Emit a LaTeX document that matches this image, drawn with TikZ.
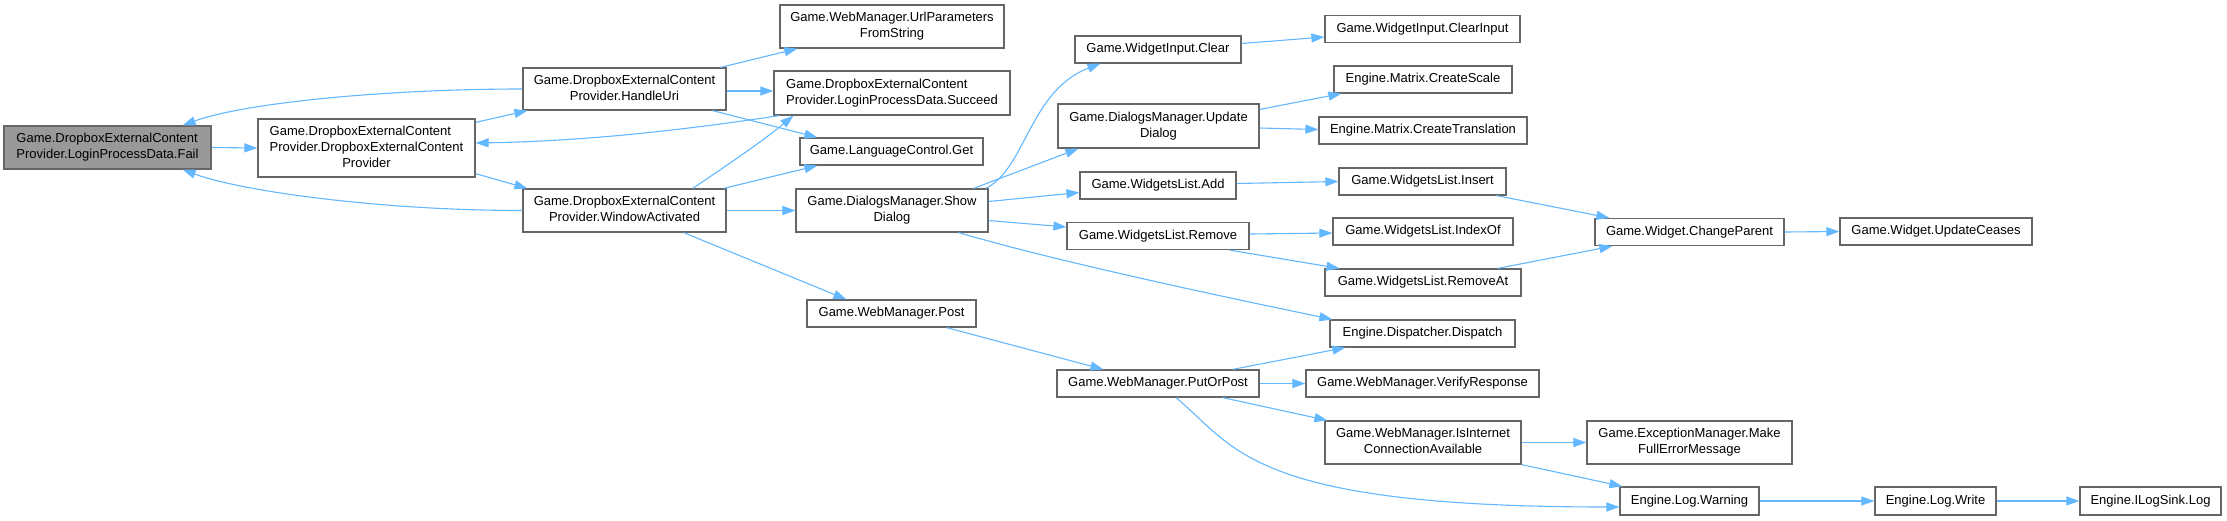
\documentclass[tikz,border=0pt]{standalone}
\usepackage{fontspec}
\setmainfont{Liberation Sans}
\usetikzlibrary{arrows.meta,calc}
\definecolor{edgec}{HTML}{63B8FF}
\definecolor{bordc}{HTML}{666666}
\definecolor{failc}{HTML}{999999}
\newcommand{\twoln}[2]{\begin{tabular}{@{}l@{}}#1\\\multicolumn{1}{@{}c@{}}{#2}\end{tabular}}
\newcommand{\threeln}[3]{\begin{tabular}{@{}l@{}}#1\\#2\\\multicolumn{1}{@{}c@{}}{#3}\end{tabular}}
\begin{document}
\begin{tikzpicture}[x=1pt,y=-1pt,
  nd/.style={draw=bordc, line width=1.2pt, fill=white, inner sep=0pt, font=\fontsize{13}{16}\selectfont, text=black},
  ed/.style={draw=edgec, line width=1.1pt, -{Triangle[length=13pt,width=9pt]}}]
\useasboundingbox (0,0) rectangle (2227,520);
\fill[white] (0,0) rectangle (2227,520);

% column 1
\node[nd, fill=failc, minimum width=207pt, minimum height=43pt] (fail) at (107.5,147.5) {\twoln{Game.DropboxExternalContent}{Provider.LoginProcessData.Fail}};
% column 2
\node[nd, minimum width=217pt, minimum height=58pt] (ctor) at (366.5,148) {\threeln{Game.DropboxExternalContent}{Provider.DropboxExternalContent}{Provider}};
% column 3
\node[nd, minimum width=203pt, minimum height=42pt] (handle) at (624.5,89) {\twoln{Game.DropboxExternalContent}{Provider.HandleUri}};
\node[nd, minimum width=203pt, minimum height=43pt] (window) at (624.5,210.5) {\twoln{Game.DropboxExternalContent}{Provider.WindowActivated}};
% column 4
\node[nd, minimum width=224pt, minimum height=43pt] (url) at (892,26.5) {\twoln{Game.WebManager.UrlParameters}{FromString}};
\node[nd, minimum width=236pt, minimum height=44pt] (succeed) at (892,93) {\twoln{Game.DropboxExternalContent}{Provider.LoginProcessData.Succeed}};
\node[nd, minimum width=183pt, minimum height=27pt] (lang) at (891.5,151.5) {Game.LanguageControl.Get};
\node[nd, minimum width=192pt, minimum height=43pt] (show) at (892,210.5) {\twoln{Game.DialogsManager.Show}{Dialog}};
\node[nd, minimum width=169pt, minimum height=27pt] (post) at (891.5,313.5) {Game.WebManager.Post};
% column 5
\node[nd, minimum width=166pt, minimum height=27pt] (wclear) at (1158,49.5) {Game.WidgetInput.Clear};
\node[nd, minimum width=201pt, minimum height=44pt] (update) at (1158.5,126) {\twoln{Game.DialogsManager.Update}{Dialog}};
\node[nd, minimum width=156pt, minimum height=27pt] (add) at (1158,185.5) {Game.WidgetsList.Add};
\node[nd, minimum width=182pt, minimum height=27pt] (remove) at (1158,236) {Game.WidgetsList.Remove};
\node[nd, minimum width=202pt, minimum height=27pt] (put) at (1158,383.5) {Game.WebManager.PutOrPost};
% column 6
\node[nd, minimum width=195pt, minimum height=27pt] (clearinput) at (1422.5,29) {Game.WidgetInput.ClearInput};
\node[nd, minimum width=178pt, minimum height=27pt] (scale) at (1423,79.5) {Engine.Matrix.CreateScale};
\node[nd, minimum width=208pt, minimum height=27pt] (transl) at (1423,130.5) {Engine.Matrix.CreateTranslation};
\node[nd, minimum width=167pt, minimum height=27pt] (insert) at (1422.5,181.5) {Game.WidgetsList.Insert};
\node[nd, minimum width=180pt, minimum height=27pt] (indexof) at (1423,231.5) {Game.WidgetsList.IndexOf};
\node[nd, minimum width=196pt, minimum height=27pt] (removeat) at (1423,282.5) {Game.WidgetsList.RemoveAt};
\node[nd, minimum width=185pt, minimum height=27pt] (dispatch) at (1422.5,333.5) {Engine.Dispatcher.Dispatch};
\node[nd, minimum width=233pt, minimum height=27pt] (verify) at (1422.5,383.5) {Game.WebManager.VerifyResponse};
\node[nd, minimum width=196pt, minimum height=43pt] (isinet) at (1423,442.5) {\twoln{Game.WebManager.IsInternet}{ConnectionAvailable}};
% column 7
\node[nd, minimum width=189pt, minimum height=27pt] (change) at (1689.5,232) {Game.Widget.ChangeParent};
\node[nd, minimum width=205pt, minimum height=43pt] (make) at (1689.5,442.5) {\twoln{Game.ExceptionManager.Make}{FullErrorMessage}};
\node[nd, minimum width=139pt, minimum height=28pt] (warning) at (1689.5,501) {Engine.Log.Warning};
% column 8
\node[nd, minimum width=192pt, minimum height=27pt] (ceases) at (1936,231.5) {Game.Widget.UpdateCeases};
\node[nd, minimum width=121pt, minimum height=28pt] (write) at (1935.5,501) {Engine.Log.Write};
% column 9
\node[nd, minimum width=141pt, minimum height=28pt] (ilog) at (2150.5,501) {Engine.ILogSink.Log};

% edges
\draw[ed] (fail.east) -- (ctor.west);
\draw[ed] (handle.west) .. controls +(-140,0) and +(60,-22) .. ($(fail.north east)+(-29,0)$);
\draw[ed] (window.west) .. controls +(-140,0) and +(60,22) .. ($(fail.south east)+(-29,0)$);
\draw[ed] ($(ctor.north east)+(0,4)$) -- ($(handle.south west)+(5,0)$);
\draw[ed] ($(ctor.south east)+(0,-4)$) -- ($(window.north west)+(5,0)$);
\draw[ed] ($(succeed.south west)+(6,0)$) .. controls +(-80,12) and +(120,-2) .. ($(ctor.east)+(0,-5)$);
\draw[ed] ($(handle.north east)+(-6,0)$) -- ($(url.south west)+(18,0)$);
\draw[ed] ($(handle.east)+(0,2)$) -- ($(succeed.west)+(0,-2)$);
\draw[ed] ($(handle.south east)+(-14,0)$) -- ($(lang.north west)+(18,0)$);
\draw[ed] ($(window.north east)+(-34,0)$) .. controls +(30,-20) and +(-30,25) .. ($(succeed.south west)+(20,0)$);
\draw[ed] ($(window.north east)+(-3,0)$) -- ($(lang.south west)+(18,0)$);
\draw[ed] (window.east) -- (show.west);
\draw[ed] ($(window.south east)+(-43,0)$) -- ($(post.north west)+(40,0)$);
\draw[ed] ($(show.north east)+(-3,0)$) .. controls +(40,-19) and +(-71,27) .. ($(wclear.south west)+(26,0)$);
\draw[ed] ($(show.north east)+(-15,0)$) -- ($(update.south west)+(21,0)$);
\draw[ed] ($(show.east)+(0,-9)$) -- ($(add.west)+(0,7)$);
\draw[ed] ($(show.east)+(0,10)$) -- ($(remove.west)+(0,-9)$);
\draw[ed] ($(show.south east)+(-30,0)$) .. controls +(102,30) and +(-101,-21) .. ($(dispatch.north west)+(3,0)$);
\draw[ed] ($(wclear.east)+(0,-6)$) -- ($(clearinput.west)+(0,8)$);
\draw[ed] ($(update.north east)+(0,6)$) -- ($(scale.south west)+(8,0)$);
\draw[ed] ($(update.east)+(0,2)$) -- ($(transl.west)+(0,-1)$);
\draw[ed] ($(add.east)+(0,-2)$) -- (insert.west);
\draw[ed] ($(remove.east)+(0,-2)$) -- ($(indexof.west)+(0,1.5)$);
\draw[ed] ($(remove.south east)+(-20,0)$) -- ($(removeat.north west)+(15,0)$);
\draw[ed] ($(insert.south east)+(-10,0)$) -- ($(change.north west)+(15,0)$);
\draw[ed] ($(removeat.north east)+(-24,0)$) -- ($(change.south west)+(18,0)$);
\draw[ed] (change.east) -- (ceases.west);
\draw[ed] ($(post.south east)+(-30,0)$) -- ($(put.north west)+(47,0)$);
\draw[ed] ($(put.north east)+(-27,0)$) -- ($(dispatch.south west)+(16,0)$);
\draw[ed] (put.east) -- (verify.west);
\draw[ed] ($(put.south east)+(-37,0)$) -- ($(isinet.north west)+(3,0)$);
\draw[ed] ($(put.south)+(18,0)$) .. controls +(60,50) and +(-370,0) .. ($(warning.west)+(0,6)$);
\draw[ed] (isinet.east) -- (make.west);
\draw[ed] (isinet.south east) -- ($(warning.north west)+(3,0)$);
\draw[ed] (warning.east) -- (write.west);
\draw[ed] (write.east) -- (ilog.west);
\end{tikzpicture}
\end{document}
